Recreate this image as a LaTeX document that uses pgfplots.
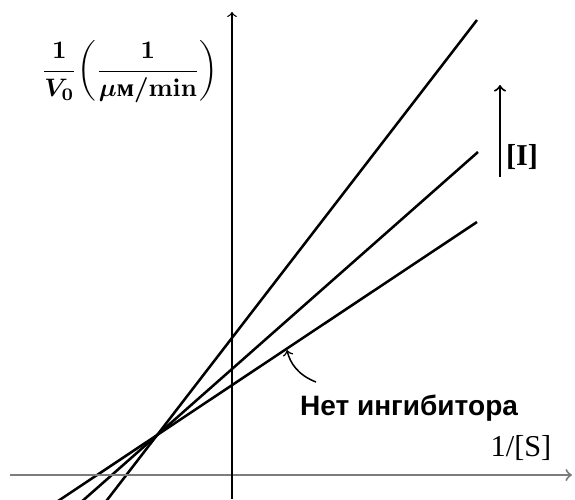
\documentclass[border=0pt]{standalone}
\usepackage{amsmath,amssymb}
\usepackage{fontspec}
\setmainfont{Liberation Serif}
\setsansfont{Liberation Sans}
\usepackage{pgfplots}
\pgfplotsset{compat=1.18}
\definecolor{axisgray}{RGB}{125,125,125}
\newsavebox\ylabbox

\begin{document}
\sbox\ylabbox{\boldmath$\dfrac{1}{V_0}\!\left(\dfrac{1}{\mu\mbox{\bfseries м}/\mathbf{min}}\right)$}%
\begin{tikzpicture}
\begin{axis}[
    scale only axis,
    width=8cm, height=6.943cm,
    hide axis,
    xmin=-2.32, xmax=3.43,
    ymin=-0.24, ymax=4.75,
    clip=true,
]
% strongest inhibitor
\addplot[black, line width=1pt] coordinates {(-1.288,-0.30) (2.45,4.55)};
% intermediate
\addplot[black, line width=1pt] coordinates {(-1.542,-0.30) (2.46,3.23)};
% no inhibitor
\addplot[black, line width=1pt] coordinates {(-1.80,-0.30) (2.45,2.53)};

\coordinate (xa) at (axis cs:-2.22,0);
\coordinate (xb) at (axis cs:3.40,0);
\coordinate (ya) at (axis cs:0,-0.24);
\coordinate (yb) at (axis cs:0,4.63);
\coordinate (yl) at (axis cs:-1.02,4.03);
\coordinate (sl) at (axis cs:2.89,0.27);
\coordinate (nl) at (axis cs:1.77,0.67);
\coordinate (c0) at (axis cs:0.84,0.93);
\coordinate (c1) at (axis cs:0.66,1.00);
\coordinate (c2) at (axis cs:0.58,1.12);
\coordinate (c3) at (axis cs:0.55,1.25);
\coordinate (ia) at (axis cs:2.68,2.98);
\coordinate (ib) at (axis cs:2.68,3.90);
\coordinate (il) at (axis cs:2.90,3.18);
\coordinate (bl) at (axis cs:-2.32,-0.24);
\coordinate (tr) at (axis cs:3.43,4.75);
\end{axis}
\draw[axisgray, line width=0.8pt, ->] (xa) -- (xb);
\draw[black, line width=0.5pt, ->] (ya) -- (yb);
\node at (yl) {\usebox\ylabbox};
\node at (sl) {\large 1/[S]};
\node at (nl) {\sffamily\bfseries\fontsize{11.1}{13}\selectfont Нет ингибитора};
\draw[black, line width=0.6pt, ->] (c0) .. controls (c1) and (c2) .. (c3);
\draw[black, line width=0.8pt, ->] (ia) -- (ib);
\node at (il) {\large\textbf{[I]}};
\pgfresetboundingbox
\useasboundingbox (bl) rectangle (tr);
\end{tikzpicture}
\end{document}
